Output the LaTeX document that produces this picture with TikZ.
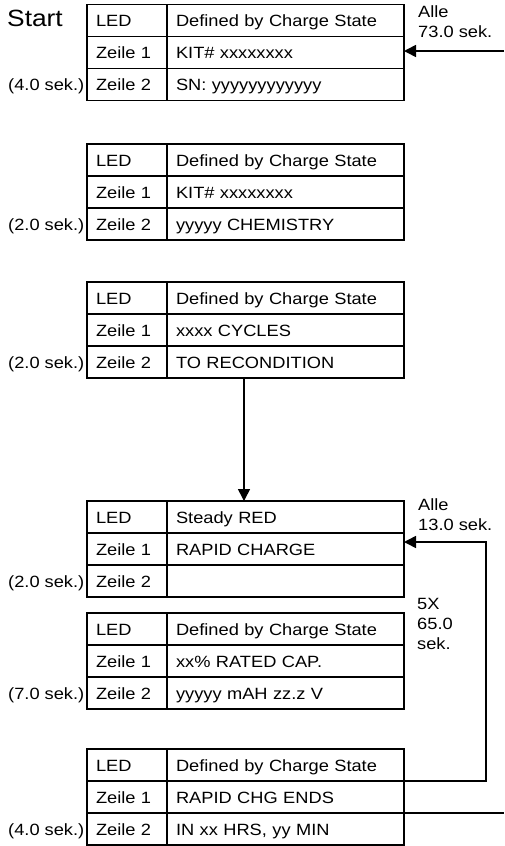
\documentclass[tikz,border=0pt]{standalone}
\usepackage{fontspec}
\setmainfont{Liberation Sans}[FakeStretch=1.12]
\usetikzlibrary{arrows.meta,calc}
\tikzset{
  txt/.style={font=\fontsize{16.3}{20}\selectfont},
  cellbase/.style={txt, draw, line width=1.8pt, rectangle, outer sep=0pt,
    inner ysep=0pt, inner xsep=9pt, minimum height=32pt,
    text height=12pt, text depth=0pt, align=left, anchor=north west},
  cellA/.style={cellbase, text width=62pt},
  cellB/.style={cellbase, text width=219pt},
  timelbl/.style={txt, anchor=east, inner xsep=2.5pt, inner ysep=0pt,
    text height=12pt, text depth=0pt},
  sidelbl/.style={txt, anchor=north west, inner sep=0pt, align=left},
  conn/.style={line width=1.6pt},
  arr/.style={conn, -{Triangle[length=12pt,width=12pt]}}
}
\newcommand{\disptable}[5]{%
  \node[cellA] (#1la) at (87,#2) {LED};
  \node[cellB] (#1lb) at (#1la.north east) {#3};
  \node[cellA] (#1oa) at (#1la.south west) {Zeile 1};
  \node[cellB] (#1ob) at (#1oa.north east) {#4};
  \node[cellA] (#1za) at (#1oa.south west) {Zeile 2};
  \node[cellB] (#1zb) at (#1za.north east) {#5};
}
\begin{document}
\begin{tikzpicture}[x=1pt,y=-1pt]
\useasboundingbox (0,0) rectangle (504,846);

\disptable{t1}{4.5}{Defined by Charge State}{KIT\# xxxxxxxx}{SN: yyyyyyyyyyyy}
\disptable{t2}{144}{Defined by Charge State}{KIT\# xxxxxxxx}{yyyyy CHEMISTRY}
\disptable{t3}{282}{Defined by Charge State}{xxxx CYCLES}{TO RECONDITION}
\disptable{t4}{501}{Steady RED}{RAPID CHARGE}{}
\disptable{t5}{613}{Defined by Charge State}{xx\% RATED CAP.}{yyyyy mAH zz.z V}
\disptable{t6}{749}{Defined by Charge State}{RAPID CHG ENDS}{IN xx HRS, yy MIN}

\node[font=\fontsize{23.5}{26}\selectfont, anchor=base west, inner sep=0pt] (start)
  at ($(t1la.base west)+(-80,0)$) {Start};

\node[timelbl] (d1) at (t1za.west) {(4.0 sek.)};
\node[timelbl] (d2) at (t2za.west) {(2.0 sek.)};
\node[timelbl] (d3) at (t3za.west) {(2.0 sek.)};
\node[timelbl] (d4) at (t4za.west) {(2.0 sek.)};
\node[timelbl] (d5) at (t5za.west) {(7.0 sek.)};
\node[timelbl] (d6) at (t6za.west) {(4.0 sek.)};

\node[sidelbl] (l1) at (418,5.5) {Alle\\73.0 sek.};
\node[sidelbl] (l2) at (418,498.5) {Alle\\13.0 sek.};
\node[sidelbl] (l3) at (417,598) {5X\\65.0\\sek.};

\coordinate (entryR) at (504,51);
\draw[arr] (entryR) -- (entryR -| t1ob.east);

\draw[arr] ($(t3zb.south west)+(77,0)$) -- ($(t4lb.north west)+(77,0)$);

\draw[arr] (t6lb.south east) -- ++(82,0) |- ($(t4ob.north east)+(0,9)$);

\coordinate (exitR) at (504,813);
\draw[conn] (t6ob.south east) -- (t6ob.south east -| exitR);
\end{tikzpicture}
\end{document}
